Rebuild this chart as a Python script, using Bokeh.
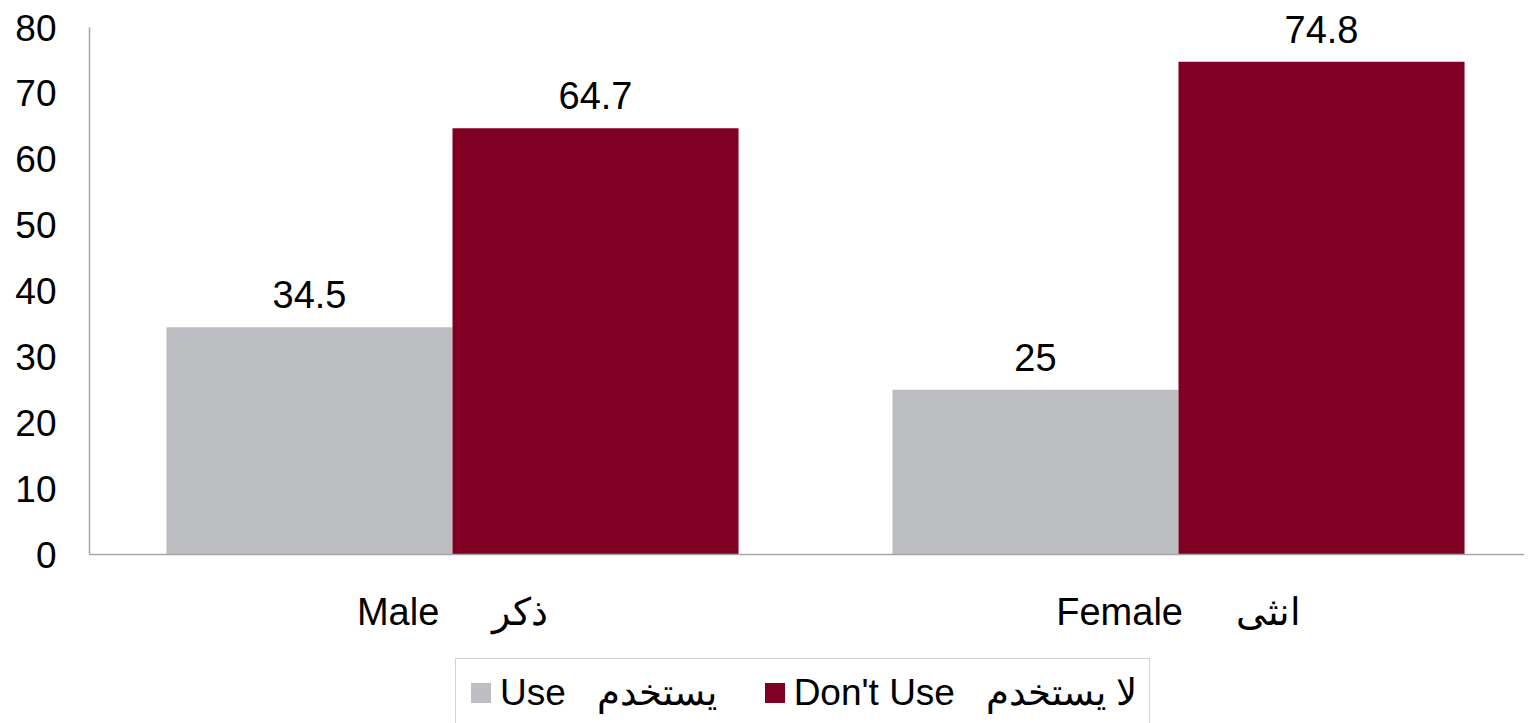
from bokeh.plotting import figure
from bokeh.layouts import column
from bokeh.models import (Legend, LegendItem, FixedTicker, Range1d, ColumnDataSource)
from bokeh.transform import dodge
from bokeh.core.properties import value
from bokeh.embed import file_html
from bokeh.resources import INLINE

NB = "\u00a0"
categories = ["Male" + NB * 5 + "ذكر", "Female" + NB * 5 + "انثى"]
series_names = ["Use" + NB * 3 + "يستخدم", "Don't Use" + NB * 3 + "لا يستخدم"]
use_vals = [34.5, 25]
dont_use_vals = [64.7, 74.8]
y_ticks = [0, 10, 20, 30, 40, 50, 60, 70, 80]
colors = ["#bdbec1", "#800023"]

FONT = "Liberation Sans"
centers = [i + 0.5 for i in range(len(categories))]
bar_w = 0.394

src = ColumnDataSource(dict(
    x=centers,
    use=use_vals,
    dont=dont_use_vals,
    use_txt=[f"{v:g}" for v in use_vals],
    dont_txt=[f"{v:g}" for v in dont_use_vals],
))

W = 1524
H = 650
frame_bottom = 554
px_per_unit = (frame_bottom - 27) / 80.0
y_end = frame_bottom / px_per_unit

p = figure(width=W, height=H,
           x_range=Range1d(0, (W - 89) / 726), y_range=Range1d(0, y_end),
           output_backend="svg", toolbar_location=None,
           min_border_left=89, min_border_top=0, min_border_right=0,
           min_border_bottom=H - frame_bottom)
p.outline_line_color = None
p.grid.visible = False
p.background_fill_color = "white"
p.border_fill_color = "white"

p.vbar(x=dodge("x", -bar_w / 2), top="use", width=bar_w, source=src,
       fill_color=colors[0], line_color=None)
p.vbar(x=dodge("x", bar_w / 2), top="dont", width=bar_w, source=src,
       fill_color=colors[1], line_color=None)

p.text(x=dodge("x", -bar_w / 2), y="use", text="use_txt", source=src,
       text_align="center", text_baseline="bottom", y_offset=-19,
       text_font=value(FONT), text_font_size="38px", text_color="black")
p.text(x=dodge("x", bar_w / 2), y="dont", text="dont_txt", source=src,
       text_align="center", text_baseline="bottom", y_offset=-19,
       text_font=value(FONT), text_font_size="38px", text_color="black")

# axes
p.yaxis.ticker = FixedTicker(ticks=y_ticks)
p.yaxis.bounds = (0, 80)
p.yaxis.major_tick_line_color = None
p.yaxis.minor_tick_line_color = None
p.yaxis.axis_line_color = "#a6a6a6"
p.yaxis.axis_line_width = 1.5
p.yaxis.major_label_text_font = FONT
p.yaxis.major_label_text_font_size = "37px"
p.yaxis.major_label_text_color = "black"
p.yaxis.major_label_standoff = 27

p.xaxis.ticker = FixedTicker(ticks=centers)
p.xaxis.major_label_overrides = {c: lab for c, lab in zip(centers, categories)}
p.xaxis.major_tick_line_color = None
p.xaxis.minor_tick_line_color = None
p.xaxis.axis_line_color = "#a6a6a6"
p.xaxis.axis_line_width = 1.5
p.xaxis.major_label_text_font = FONT
p.xaxis.major_label_text_font_size = "38px"
p.xaxis.major_label_text_color = "black"
p.xaxis.major_label_standoff = 30

# legend strip
p2 = figure(width=W, height=73, x_range=Range1d(0, 1), y_range=Range1d(0, 1),
            output_backend="svg", toolbar_location=None,
            x_axis_location=None, y_axis_location=None, min_border=0)
p2.outline_line_color = None
p2.grid.visible = False
hidden = ColumnDataSource(dict(x=[-10.0], top=[0.0]))
l1 = p2.vbar(x="x", top="top", width=0.1, source=hidden,
             fill_color=colors[0], line_color=None)
l2 = p2.vbar(x="x", top="top", width=0.1, source=hidden,
             fill_color=colors[1], line_color=None)

legend = Legend(items=[LegendItem(label=series_names[0], renderers=[l1]),
                       LegendItem(label=series_names[1], renderers=[l2])],
                orientation="horizontal", location=(366, -4))
legend.label_text_font = FONT
legend.label_text_font_size = "37px"
legend.label_text_color = "black"
legend.glyph_width = 25
legend.glyph_height = 25
legend.label_standoff = 7
legend.spacing = 45
legend.padding = 12
legend.margin = 0
legend.border_line_color = "#a6a6a6"
legend.border_line_width = 1.5
legend.background_fill_color = "white"
p2.add_layout(legend, "center")

layout = column(p, p2, spacing=0)
open("out.html", "w").write(file_html(layout, INLINE))
